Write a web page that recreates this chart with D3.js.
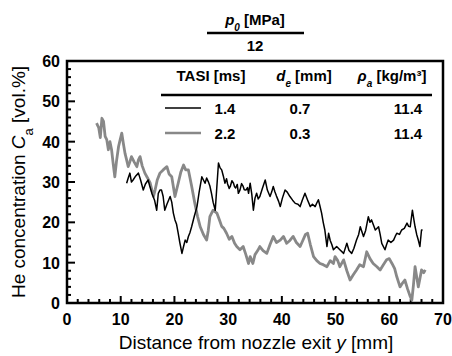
<!DOCTYPE html>
<html>
<head>
<meta charset="utf-8">
<script src="https://cdn.jsdelivr.net/npm/d3@7"></script>
<style>
  body { margin: 0; background: #fff; }
  text { font-family: "Liberation Sans", Arial, sans-serif; fill: #000; }
</style>
</head>
<body>
<div id="chart"></div>
<script>
// distance from nozzle exit y [mm] and He concentration [vol.%]
const tasi14X = [11.1, 11.4, 11.7, 12.0, 12.3, 12.8, 13.3, 13.7, 14.2, 14.6, 15.1, 15.4, 15.8, 16.3, 16.7, 17.0, 17.3, 17.6, 17.9, 18.2, 18.6, 19.2, 19.5, 19.8, 20.1, 20.4, 20.7, 21.0, 21.4, 21.7, 22.0, 22.3, 22.6, 22.9, 23.2, 23.7, 24.2, 24.6, 25.1, 25.4, 25.7, 26.0, 26.3, 26.6, 26.9, 27.2, 27.6, 27.9, 28.2, 28.5, 28.8, 29.1, 29.4, 29.7, 29.9, 30.2, 30.4, 30.7, 31.0, 31.2, 31.4, 31.7, 31.9, 32.2, 32.5, 32.8, 33.0, 33.3, 33.6, 33.8, 34.1, 34.4, 34.7, 35.0, 35.3, 35.6, 35.9, 36.4, 36.9, 37.3, 37.8, 38.1, 38.4, 38.7, 39.0, 39.4, 39.7, 40.1, 40.6, 41.0, 41.5, 42.0, 42.5, 43.0, 43.4, 43.8, 44.3, 44.8, 45.3, 45.7, 46.2, 46.5, 46.8, 47.1, 47.4, 47.7, 48.0, 48.2, 48.4, 48.7, 49.0, 49.3, 49.6, 50.2, 50.8, 51.5, 52.1, 52.5, 53.0, 53.4, 53.9, 54.3, 54.6, 55.2, 55.6, 56.1, 56.4, 56.7, 57.0, 57.4, 58.0, 58.3, 58.6, 59.2, 59.5, 59.8, 60.3, 60.8, 61.1, 61.4, 61.9, 62.3, 62.8, 63.3, 63.6, 63.9, 64.3, 64.6, 64.8, 65.1, 65.4, 65.7, 66.0, 66.2];
const tasi14Y = [29.7, 31.0, 32.2, 30.0, 30.5, 31.5, 32.2, 30.5, 28.0, 29.5, 30.5, 29.0, 27.2, 25.5, 23.0, 27.2, 28.0, 28.0, 26.4, 23.0, 24.5, 26.4, 25.0, 22.3, 20.6, 19.5, 17.3, 15.0, 12.3, 14.0, 15.6, 15.0, 16.5, 17.5, 18.9, 21.5, 23.9, 27.5, 31.3, 30.5, 29.7, 31.0, 30.1, 29.0, 27.2, 25.0, 23.0, 28.9, 34.7, 33.5, 33.0, 31.5, 29.7, 30.8, 29.5, 28.4, 28.9, 30.3, 29.7, 28.8, 28.5, 29.4, 27.2, 28.0, 29.6, 28.9, 28.1, 28.0, 28.6, 27.2, 29.7, 27.0, 23.0, 26.0, 27.2, 25.8, 26.4, 28.5, 30.5, 28.0, 26.4, 27.5, 28.9, 27.6, 26.5, 25.2, 23.9, 26.0, 28.0, 27.5, 26.4, 25.5, 24.7, 24.5, 23.9, 25.5, 27.2, 25.5, 23.9, 24.5, 23.9, 24.8, 25.6, 24.0, 22.3, 20.0, 18.1, 16.0, 14.0, 17.3, 15.5, 14.5, 13.2, 14.0, 13.2, 12.3, 14.8, 13.0, 12.3, 13.5, 15.6, 17.0, 18.9, 16.5, 18.0, 21.4, 20.0, 20.6, 19.5, 18.1, 18.9, 17.0, 14.8, 13.2, 14.5, 15.6, 15.0, 15.6, 16.5, 17.3, 17.0, 18.1, 18.5, 19.8, 19.0, 18.9, 23.0, 20.5, 18.9, 17.0, 15.6, 14.0, 18.1, 18.1];
const tasi22X = [5.5, 5.9, 6.2, 6.5, 6.8, 7.1, 7.4, 7.7, 8.0, 8.3, 8.6, 8.9, 9.2, 9.6, 9.9, 10.2, 10.5, 10.8, 11.1, 11.4, 11.7, 12.0, 12.5, 13.0, 13.3, 13.6, 14.0, 14.5, 15.0, 15.5, 16.1, 16.4, 16.8, 17.3, 17.9, 18.6, 19.0, 19.5, 20.1, 20.7, 21.2, 21.7, 22.1, 22.6, 23.2, 23.8, 24.3, 24.8, 25.4, 26.0, 26.3, 26.6, 27.2, 27.9, 28.4, 28.8, 29.2, 29.7, 30.2, 30.7, 31.2, 31.6, 32.2, 32.8, 33.3, 33.8, 34.1, 34.6, 35.0, 35.5, 35.9, 36.5, 37.2, 37.8, 38.4, 39.0, 39.7, 40.3, 40.9, 41.5, 42.1, 42.7, 43.4, 43.9, 44.4, 44.8, 45.3, 45.9, 46.5, 47.1, 47.7, 48.4, 49.0, 49.6, 49.9, 50.4, 50.8, 51.5, 52.1, 52.7, 53.3, 53.9, 54.5, 55.2, 55.8, 56.4, 57.0, 57.7, 58.3, 58.9, 59.5, 60.0, 60.5, 61.0, 61.4, 62.0, 62.5, 62.9, 63.4, 63.9, 64.2, 64.5, 64.8, 65.1, 65.4, 65.7, 66.0, 66.4, 66.7];
const tasi22Y = [44.6, 43.5, 41.0, 45.8, 45.0, 41.3, 40.5, 38.0, 40.0, 38.0, 34.5, 31.3, 35.0, 38.8, 40.5, 42.1, 39.5, 37.1, 35.5, 33.8, 35.0, 36.3, 35.0, 33.8, 35.5, 36.3, 34.0, 32.2, 31.0, 29.7, 26.4, 28.0, 30.5, 32.2, 33.0, 33.8, 32.0, 31.3, 26.4, 29.7, 32.5, 34.2, 33.0, 33.0, 29.0, 24.7, 21.5, 18.9, 17.0, 15.6, 18.0, 21.4, 23.0, 22.3, 20.5, 19.0, 18.5, 17.3, 15.8, 16.5, 14.8, 14.0, 13.2, 14.0, 12.0, 9.8, 11.5, 9.8, 12.0, 13.0, 14.0, 13.0, 12.3, 14.5, 16.5, 15.0, 15.6, 16.5, 14.8, 15.5, 16.5, 15.0, 14.0, 15.5, 17.0, 17.3, 14.5, 11.5, 10.5, 9.8, 9.5, 9.0, 10.5, 9.8, 11.5, 10.5, 9.0, 10.7, 8.0, 5.7, 7.0, 8.2, 9.5, 9.0, 12.7, 11.0, 9.8, 9.0, 8.2, 9.5, 10.7, 11.0, 9.8, 8.5, 6.5, 4.0, 5.0, 5.7, 3.5, 1.6, 0.7, 4.5, 9.0, 6.5, 4.0, 6.0, 8.2, 7.5, 8.2];

const xTicks = [0, 10, 20, 30, 40, 50, 60, 70];
const yTicks = [0, 10, 20, 30, 40, 50, 60];

const tableHead = ['TASI [ms]', 'd_e [mm]', 'ρ_a [kg/m³]'];
const tableRows = [
  ['1.4', '0.7', '11.4'],
  ['2.2', '0.3', '11.4']
];
const p0Value = '12';

const W = 452, H = 356;
const margin = { left: 67, top: 61, right: 9, bottom: 53 };
const iw = W - margin.left - margin.right;
const ih = H - margin.top - margin.bottom;

const svg = d3.select('#chart').append('svg')
  .attr('width', W)
  .attr('height', H);

const x = d3.scaleLinear().domain([0, 70]).range([margin.left, margin.left + iw]);
const y = d3.scaleLinear().domain([0, 60]).range([margin.top + ih, margin.top]);

// minor ticks every 2 units, inward
const xMinor = d3.range(0, 70, 2).filter(v => v % 10 !== 0);
const yMinor = d3.range(0, 60, 2).filter(v => v % 10 !== 0);

const g = svg.append('g');

g.selectAll('.xmin').data(xMinor).enter().append('line')
  .attr('x1', d => x(d)).attr('x2', d => x(d))
  .attr('y1', y(0)).attr('y2', y(0) - 4)
  .attr('stroke', '#000').attr('stroke-width', 2);
g.selectAll('.xmaj').data(xTicks.slice(1, -1)).enter().append('line')
  .attr('x1', d => x(d)).attr('x2', d => x(d))
  .attr('y1', y(0)).attr('y2', y(0) - 7)
  .attr('stroke', '#000').attr('stroke-width', 2);
g.selectAll('.ymin').data(yMinor).enter().append('line')
  .attr('x1', x(0)).attr('x2', x(0) + 4)
  .attr('y1', d => y(d)).attr('y2', d => y(d))
  .attr('stroke', '#000').attr('stroke-width', 2);
g.selectAll('.ymaj').data(yTicks.slice(1, -1)).enter().append('line')
  .attr('x1', x(0)).attr('x2', x(0) + 8)
  .attr('y1', d => y(d)).attr('y2', d => y(d))
  .attr('stroke', '#000').attr('stroke-width', 2);

// tick labels
g.selectAll('.xl').data(xTicks).enter().append('text')
  .attr('x', d => x(d)).attr('y', y(0) + 22)
  .attr('text-anchor', 'middle')
  .style('font-size', '16px').style('font-weight', 'bold')
  .text(d => d);
g.selectAll('.yl').data(yTicks).enter().append('text')
  .attr('x', x(0) - 7).attr('y', d => y(d) + 6)
  .attr('text-anchor', 'end')
  .style('font-size', '16px').style('font-weight', 'bold')
  .text(d => d);

// data lines
const line = d3.line().x(d => x(d[0])).y(d => y(d[1]));
const grayPts = d3.zip(tasi22X, tasi22Y);
const blackPts = d3.zip(tasi14X, tasi14Y);

svg.append('path').datum(grayPts)
  .attr('d', line).attr('fill', 'none')
  .attr('stroke', '#888').attr('stroke-width', 2.8)
  .attr('stroke-linejoin', 'round');
svg.append('path').datum(blackPts)
  .attr('d', line).attr('fill', 'none')
  .attr('stroke', '#000').attr('stroke-width', 1.5)
  .attr('stroke-linejoin', 'round');

// frame
svg.append('rect')
  .attr('x', x(0)).attr('y', y(60))
  .attr('width', x(70) - x(0)).attr('height', y(0) - y(60))
  .attr('fill', 'none').attr('stroke', '#000').attr('stroke-width', 2.5);

// axis titles
const xt = svg.append('text')
  .attr('x', (x(0) + x(70)) / 2 + 1).attr('y', 349)
  .attr('text-anchor', 'middle').style('font-size', '19px');
xt.append('tspan').text('Distance from nozzle exit ');
xt.append('tspan').style('font-style', 'italic').text('y');
xt.append('tspan').text(' [mm]');

const yt = svg.append('text')
  .attr('transform', `translate(25,${(y(0) + y(60)) / 2}) rotate(-90)`)
  .attr('text-anchor', 'middle').style('font-size', '19px');
yt.append('tspan').text('He concentration ');
yt.append('tspan').style('font-style', 'italic').text('C');
yt.append('tspan').attr('baseline-shift', 'sub').style('font-size', '13px').text('a');
yt.append('tspan').text(' [vol.%]');

// header above plot: p0 [MPa] / 12
const h = svg.append('text')
  .attr('x', 255).attr('y', 25).attr('text-anchor', 'middle')
  .style('font-size', '15px').style('font-weight', 'bold');
h.append('tspan').style('font-style', 'italic').text('p');
h.append('tspan').attr('baseline-shift', 'sub').style('font-size', '10px').style('font-style', 'italic').text('0');
h.append('tspan').text(' [MPa]');
svg.append('line').attr('x1', 207).attr('x2', 304).attr('y1', 33).attr('y2', 33)
  .attr('stroke', '#000').attr('stroke-width', 2.5);
svg.append('text').attr('x', 255).attr('y', 51).attr('text-anchor', 'middle')
  .style('font-size', '15px').style('font-weight', 'bold').text(p0Value);

// table legend
const colX = [211, 304, 392];
const valX = [225, 300, 408];
tableHead.forEach((t, i) => {
  const tx = svg.append('text').attr('x', colX[i]).attr('y', 81)
    .attr('text-anchor', 'middle').style('font-size', '15px').style('font-weight', 'bold');
  const parts = t.split('_');
  if (parts.length === 1) {
    tx.text(t);
  } else {
    const sym = parts[0];
    const rest = parts[1].split(' ');
    tx.append('tspan').style('font-style', 'italic').text(sym);
    tx.append('tspan').attr('baseline-shift', 'sub').style('font-size', '10px').style('font-style', 'italic').text(rest[0]);
    tx.append('tspan').text(' ' + rest.slice(1).join(' '));
  }
});
svg.append('line').attr('x1', 161).attr('x2', 432).attr('y1', 95).attr('y2', 95)
  .attr('stroke', '#000').attr('stroke-width', 2.5);

const legendColors = ['#000', '#888'];
const legendWidths = [1.4, 2.6];
tableRows.forEach((row, r) => {
  const ry = 108 + r * 25;
  svg.append('line').attr('x1', 165).attr('x2', 201).attr('y1', ry).attr('y2', ry)
    .attr('stroke', legendColors[r]).attr('stroke-width', legendWidths[r]);
  row.forEach((v, i) => {
    svg.append('text').attr('x', valX[i]).attr('y', ry + 6)
      .attr('text-anchor', 'middle').style('font-size', '15px').style('font-weight', 'bold')
      .text(v);
  });
});
</script>
</body>
</html>
